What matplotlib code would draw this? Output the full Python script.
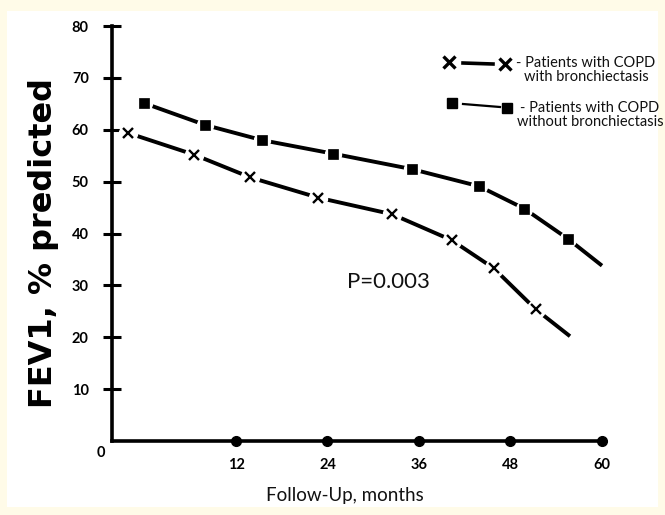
import matplotlib.pyplot as plt
from matplotlib.lines import Line2D
from matplotlib.patches import Rectangle

plt.rcParams['font.family'] = ['Lato', 'DejaVu Sans']

# follow-up (months) and FEV1 (% predicted)
months_bx = [-2.2, 6.5, 13.9, 22.8, 32.5, 40.3, 45.8, 51.3, 55.8]
fev1_bx = [59.4, 55.2, 50.8, 46.9, 43.7, 38.7, 33.3, 25.4, 20.2]
months_no_bx = [0.0, 8.0, 15.4, 24.7, 35.1, 43.9, 49.8, 55.6, 60.0]
fev1_no_bx = [65.1, 60.9, 58.0, 55.4, 52.4, 49.1, 44.8, 38.9, 33.8]

x_ticks = [12, 24, 36, 48, 60]
y_ticks = [10, 20, 30, 40, 50, 60, 70, 80]

label_bx = '- Patients with COPD\nwith bronchiectasis'
label_no_bx = '- Patients with COPD\nwithout bronchiectasis'
p_text = 'P=0.003'

W, H = 665, 515


def fpos(x, y):
    # pixel position (from top left) -> figure fraction
    return x / W, 1 - y / H


fig = plt.figure(figsize=(W / 100, H / 100), dpi=100, facecolor='#fffbe8')
fig.patches.append(Rectangle(fpos(7, 507), 651 / W, 496 / H, transform=fig.transFigure,
                             facecolor='white', edgecolor='none', zorder=-5))

ax = fig.add_axes([111.7 / W, 1 - 441 / H, (602 - 111.7) / W, (441 - 26) / H])
ax.set_zorder(1)
ax.patch.set_visible(False)
ax.set_xlim(-4.3, 60)
ax.set_ylim(0, 80)


def draw_series(x, y, marker, ms, mew):
    ax.plot(x, y, color='black', lw=2.8, solid_capstyle='butt', zorder=2, clip_on=False)
    gap = 13 if marker == 'x' else 11.5
    ax.plot(x[:-1], y[:-1], ls='', marker='o', ms=gap, mfc='white', mec='white', zorder=3, clip_on=False)
    ax.plot(x[:-1], y[:-1], ls='', marker=marker, ms=ms, color='black', mew=mew, zorder=4, clip_on=False)


draw_series(months_no_bx, fev1_no_bx, 's', 7, 0.5)
draw_series(months_bx, fev1_bx, 'x', 7.5, 1.7)

ax.text(26.5, 30.6, p_text, ha='left', va='center', fontsize=16, color='#111111')

# axes
for s in ['top', 'right']:
    ax.spines[s].set_visible(False)
for s in ['left', 'bottom']:
    ax.spines[s].set_linewidth(2.6)
    ax.spines[s].set_capstyle('projecting')

ax.set_yticks(y_ticks)
ax.set_xticks(x_ticks)
ax.tick_params(axis='y', direction='inout', length=13, width=2.2, pad=10, labelsize=10.5)
ax.tick_params(axis='x', length=0, pad=12.5, labelsize=10.5)
for lab in ax.get_xticklabels() + ax.get_yticklabels():
    lab.set_fontweight('bold')
ax.plot(x_ticks, [0] * len(x_ticks), 'o', color='black', ms=7, clip_on=False, zorder=5)
ax.annotate('0', xy=(-4.3, 0), xytext=(-8, -8.5), textcoords='offset points',
            ha='center', va='center', fontsize=10.5, fontweight='bold')

fig.text(*fpos(44, 243), 'FEV1, % predicted', rotation=90, ha='center', va='center',
         fontsize=23, fontweight='bold', family='DejaVu Sans')
fig.text(*fpos(345, 495), 'Follow-Up, months', ha='center', va='center', fontsize=13.5,
         color='#111111')

# legend, drawn by hand
fig.add_artist(Line2D([463 / W, 493 / W], [1 - 63 / H, 1 - 64 / H], color='black', lw=2.6))
fig.add_artist(Line2D([449 / W, 505 / W], [1 - 62 / H, 1 - 64 / H], ls='', marker='x',
                      ms=8, mew=2.4, color='black'))
fig.text(*fpos(586, 70), label_bx, ha='center', va='center', multialignment='center',
         fontsize=10.5, linespacing=0.95, color='#111111')
fig.add_artist(Line2D([463 / W, 500 / W], [1 - 104 / H, 1 - 107 / H], color='black', lw=1.6))
fig.add_artist(Line2D([452 / W, 507 / W], [1 - 103 / H, 1 - 108 / H], ls='', marker='s',
                      ms=7, color='black'))
fig.text(*fpos(590, 115), label_no_bx, ha='center', va='center', multialignment='center',
         fontsize=10.5, linespacing=0.95, color='#111111')

fig.savefig('out.png', dpi=100, facecolor=fig.get_facecolor())
